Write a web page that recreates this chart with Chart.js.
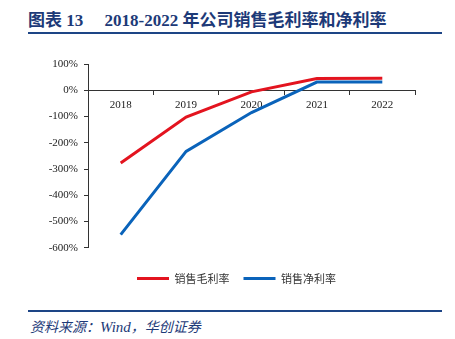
<!DOCTYPE html>
<html>
<head>
<meta charset="utf-8">
<script src="https://cdn.jsdelivr.net/npm/chart.js@4.4.0/dist/chart.umd.min.js"></script>
<style>
  html, body { margin: 0; padding: 0; background: #fff; }
  #wrap { position: relative; width: 455px; height: 339px; overflow: hidden; }
  #title { position: absolute; left: 28px; top: 6px; font-family: "Liberation Serif", "Noto Sans CJK SC", serif; font-weight: bold; font-size: 17px; color: #1d3a78; white-space: pre; }
  #title .cn { font-family: "Noto Sans CJK SC", sans-serif; }
  #line1 { position: absolute; left: 28px; top: 32px; width: 414px; height: 2px; background: #1d4586; }
  #line2 { position: absolute; left: 28px; top: 310px; width: 414px; height: 2px; background: #1d4586; }
  #source { position: absolute; left: 30px; top: 316px; font-family: "Noto Sans CJK SC", sans-serif; font-style: italic; font-size: 14px; color: #1d3a78; }
  #source .en { font-family: "Liberation Serif", serif; font-size: 15px; }
  #chartBox { position: absolute; left: 0; top: 50px; width: 455px; height: 244px; }
</style>
</head>
<body>
<div id="wrap">
  <div id="title"><span class="cn">图表</span> 13     2018-2022 <span class="cn">年公司销售毛利率和净利率</span></div>
  <div id="line1"></div>
  <div id="chartBox"><canvas id="c"></canvas></div>
  <div id="line2"></div>
  <div id="source">资料来源：<span class="en">Wind</span>，华创证券</div>
</div>
<script>
const years = ['2018', '2019', '2020', '2021', '2022'];
const grossMargin = [-277, -102, -6, 45, 46];
const netMargin = [-550, -233, -85, 31, 31];
const yTicks = [100, 0, -100, -200, -300, -400, -500, -600];

const shiftLegend = {
  id: 'shiftLegend',
  afterLayout(chart) {
    if (chart.legend) { chart.legend.left += 9; chart.legend.right += 9; }
  }
};

new Chart(document.getElementById('c'), {
  type: 'line',
  data: {
    labels: years,
    datasets: [
      { label: '销售毛利率', data: grossMargin, borderColor: '#e3141f', backgroundColor: '#e3141f', borderWidth: 3, pointRadius: 0, tension: 0, fill: false },
      { label: '销售净利率', data: netMargin, borderColor: '#0a63ba', backgroundColor: '#0a63ba', borderWidth: 3, pointRadius: 0, tension: 0, fill: false }
    ]
  },
  plugins: [shiftLegend],
  options: {
    responsive: true,
    maintainAspectRatio: false,
    animation: false,
    layout: { padding: { left: 40, right: 40, top: 14, bottom: 0 } },
    plugins: {
      legend: {
        position: 'bottom',
        title: { display: true, text: '', font: { size: 1 }, padding: { top: 10, bottom: 0 } },
        labels: {
          usePointStyle: true,
          pointStyle: 'line',
          pointStyleWidth: 32,
          color: '#333',
          padding: 14,
          font: { family: '"Noto Sans CJK SC", sans-serif', size: 11 }
        }
      },
      tooltip: { enabled: false }
    },
    scales: {
      x: {
        type: 'category',
        position: { y: 0 },
        offset: true,
        grid: { display: true, drawOnChartArea: false, drawTicks: true, tickLength: 4, offset: true, color: '#333' },
        border: { display: true, color: '#333', width: 1 },
        ticks: { color: '#222', padding: 4, font: { family: '"Liberation Serif", serif', size: 11 } }
      },
      y: {
        min: -600,
        max: 100,
        afterFit: s => { s.width = 48; },
        afterBuildTicks: s => { s.ticks = yTicks.map(v => ({ value: v })); },
        grid: { display: true, drawOnChartArea: false, drawTicks: true, tickLength: 4, color: '#333' },
        border: { display: true, color: '#333', width: 1 },
        ticks: { color: '#222', padding: 6, callback: v => v + '%', font: { family: '"Liberation Serif", serif', size: 11 } }
      }
    }
  }
});
</script>
</body>
</html>
